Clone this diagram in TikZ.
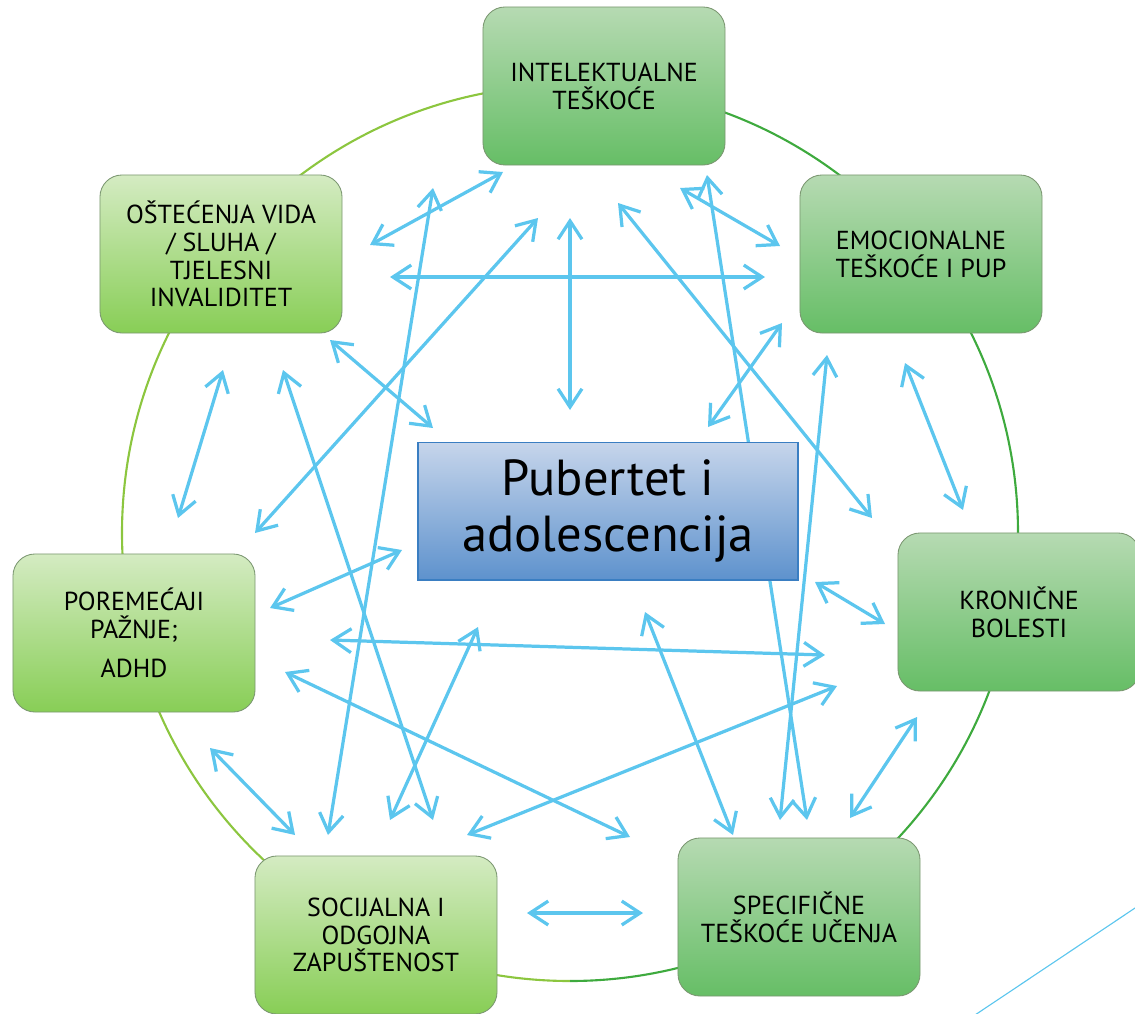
\documentclass[tikz,border=0pt]{standalone}
\usepackage{fontspec}
\setmainfont{PT Sans}
\usepackage{tikz}
\usetikzlibrary{arrows.meta}
\definecolor{linkblue}{RGB}{92,198,238}
\definecolor{greentop}{RGB}{182,218,178}
\definecolor{greenbot}{RGB}{102,190,102}
\definecolor{limetop}{RGB}{212,235,194}
\definecolor{limebot}{RGB}{136,206,86}
\definecolor{boxedge}{RGB}{122,150,112}
\definecolor{pubtop}{RGB}{198,213,235}
\definecolor{pubbot}{RGB}{94,146,205}
\definecolor{pubedge}{RGB}{58,126,194}
\definecolor{ringlime}{RGB}{140,198,63}
\definecolor{ringgreen}{RGB}{62,170,62}

\begin{document}
\begin{tikzpicture}[
    x=0.025cm, y=-0.025cm,
    box/.style={
        rectangle, rounded corners=0.55cm, draw=boxedge, line width=0.6pt,
        minimum width=6.05cm, minimum height=3.95cm,
        align=center, font=\fontsize{18.5}{19.8}\selectfont
    },
    greenbox/.style={box, top color=greentop, bottom color=greenbot},
    limebox/.style={box, top color=limetop, bottom color=limebot},
    link/.style={{Straight Barb[length=13pt,width=17pt]}-{Straight Barb[length=13pt,width=17pt]},
        line width=2.3pt, linkblue}
]
\useasboundingbox (0,0) rectangle (1135,1013);

% Ring behind the boxes
\draw[ringlime, line width=1.5pt] (570,85) arc[start angle=90, end angle=270, x radius=448, y radius=-448];
\draw[ringgreen, line width=1.5pt] (570,85) arc[start angle=90, end angle=-90, x radius=448, y radius=-448];

% Arrow ends (near each box)
\coordinate (int-ost) at (503,172);  \coordinate (ost-int) at (370,245);
\coordinate (int-soc) at (433,188);  \coordinate (soc-int) at (328,835);
\coordinate (int-por) at (538,218);  \coordinate (por-int) at (255,533);
\coordinate (int-pub) at (570,218);  \coordinate (pub-int) at (570,410);
\coordinate (int-kro) at (618,203);  \coordinate (kro-int) at (872,518);
\coordinate (int-spe) at (707,175);  \coordinate (spe-int) at (807,820);
\coordinate (int-emo) at (680,188);  \coordinate (emo-int) at (780,246);
\coordinate (ost-emo) at (390,277);  \coordinate (emo-ost) at (765,277);
\coordinate (ost-pub) at (330,340);  \coordinate (pub-ost) at (433,428);
\coordinate (ost-por) at (223,370);  \coordinate (por-ost) at (178,518);
\coordinate (ost-soc) at (283,370);  \coordinate (soc-ost) at (433,820);
\coordinate (pub-emo) at (708,427);  \coordinate (emo-pub) at (782,323);
\coordinate (emo-spe) at (827,355);  \coordinate (spe-emo) at (780,820);
\coordinate (emo-kro) at (905,363);  \coordinate (kro-emo) at (963,510);
\coordinate (pub-kro) at (815,582);  \coordinate (kro-pub) at (885,624);
\coordinate (por-kro) at (330,640);  \coordinate (kro-por) at (825,655);
\coordinate (soc-kro) at (467,835);  \coordinate (kro-soc) at (837,686);
\coordinate (pub-spe) at (645,612);  \coordinate (spe-pub) at (733,835);
\coordinate (spe-kro) at (850,818);  \coordinate (kro-spe) at (917,717);
\coordinate (por-spe) at (285,672);  \coordinate (spe-por) at (630,837);
\coordinate (soc-spe) at (527,913);  \coordinate (spe-soc) at (643,913);
\coordinate (por-pub) at (270,608);  \coordinate (pub-por) at (402,550);
\coordinate (soc-pub) at (390,820);  \coordinate (pub-soc) at (478,627);
\coordinate (por-soc) at (210,748);  \coordinate (soc-por) at (295,835);

% Arrows
\draw[link] (int-ost) -- (ost-int);
\draw[link] (int-soc) -- (soc-int);
\draw[link] (int-por) -- (por-int);
\draw[link] (int-pub) -- (pub-int);
\draw[link] (int-kro) -- (kro-int);
\draw[link] (int-spe) -- (spe-int);
\draw[link] (int-emo) -- (emo-int);
\draw[link] (ost-emo) -- (emo-ost);
\draw[link] (ost-pub) -- (pub-ost);
\draw[link] (ost-por) -- (por-ost);
\draw[link] (ost-soc) -- (soc-ost);
\draw[link] (pub-emo) -- (emo-pub);
\draw[link] (emo-spe) -- (spe-emo);
\draw[link] (emo-kro) -- (kro-emo);
\draw[link] (pub-kro) -- (kro-pub);
\draw[link] (por-kro) -- (kro-por);
\draw[link] (soc-kro) -- (kro-soc);
\draw[link] (pub-spe) -- (spe-pub);
\draw[link] (spe-kro) -- (kro-spe);
\draw[link] (por-spe) -- (spe-por);
\draw[link] (soc-spe) -- (spe-soc);
\draw[link] (por-pub) -- (pub-por);
\draw[link] (soc-pub) -- (pub-soc);
\draw[link] (por-soc) -- (soc-por);

% Boxes round the ring
\node[greenbox] (int) at (604,86) {INTELEKTUALNE\\TEŠKOĆE};
\node[greenbox] (emo) at (921,254) {EMOCIONALNE\\TEŠKOĆE I PUP};
\node[greenbox] (kro) at (1019,612) {KRONIČNE\\BOLESTI};
\node[greenbox] (spe) at (799,917) {SPECIFIČNE\\TEŠKOĆE UČENJA};
\node[limebox] (soc) at (376,935) {SOCIJALNA I\\ODGOJNA\\ZAPUŠTENOST};
\node[limebox] (por) at (134,633) {POREMEĆAJI\\PAŽNJE;\\[8pt]ADHD};
\node[limebox] (ost) at (221,254) {OŠTEĆENJA VIDA\\/ SLUHA /\\TJELESNI\\INVALIDITET};

% Centre
\node[rectangle, draw=pubedge, line width=1.4pt, top color=pubtop, bottom color=pubbot,
    minimum width=9.5cm, minimum height=3.425cm, align=center,
    font=\fontsize{36}{39.7}\selectfont] (pub) at (608,511) {Pubertet i\\adolescencija};

% Corner line of the slide
\coordinate (deco-a) at (960,1025);
\coordinate (deco-b) at (1150,898);
\draw[linkblue, line width=0.8pt] (deco-a) -- (deco-b);

\end{tikzpicture}
\end{document}
